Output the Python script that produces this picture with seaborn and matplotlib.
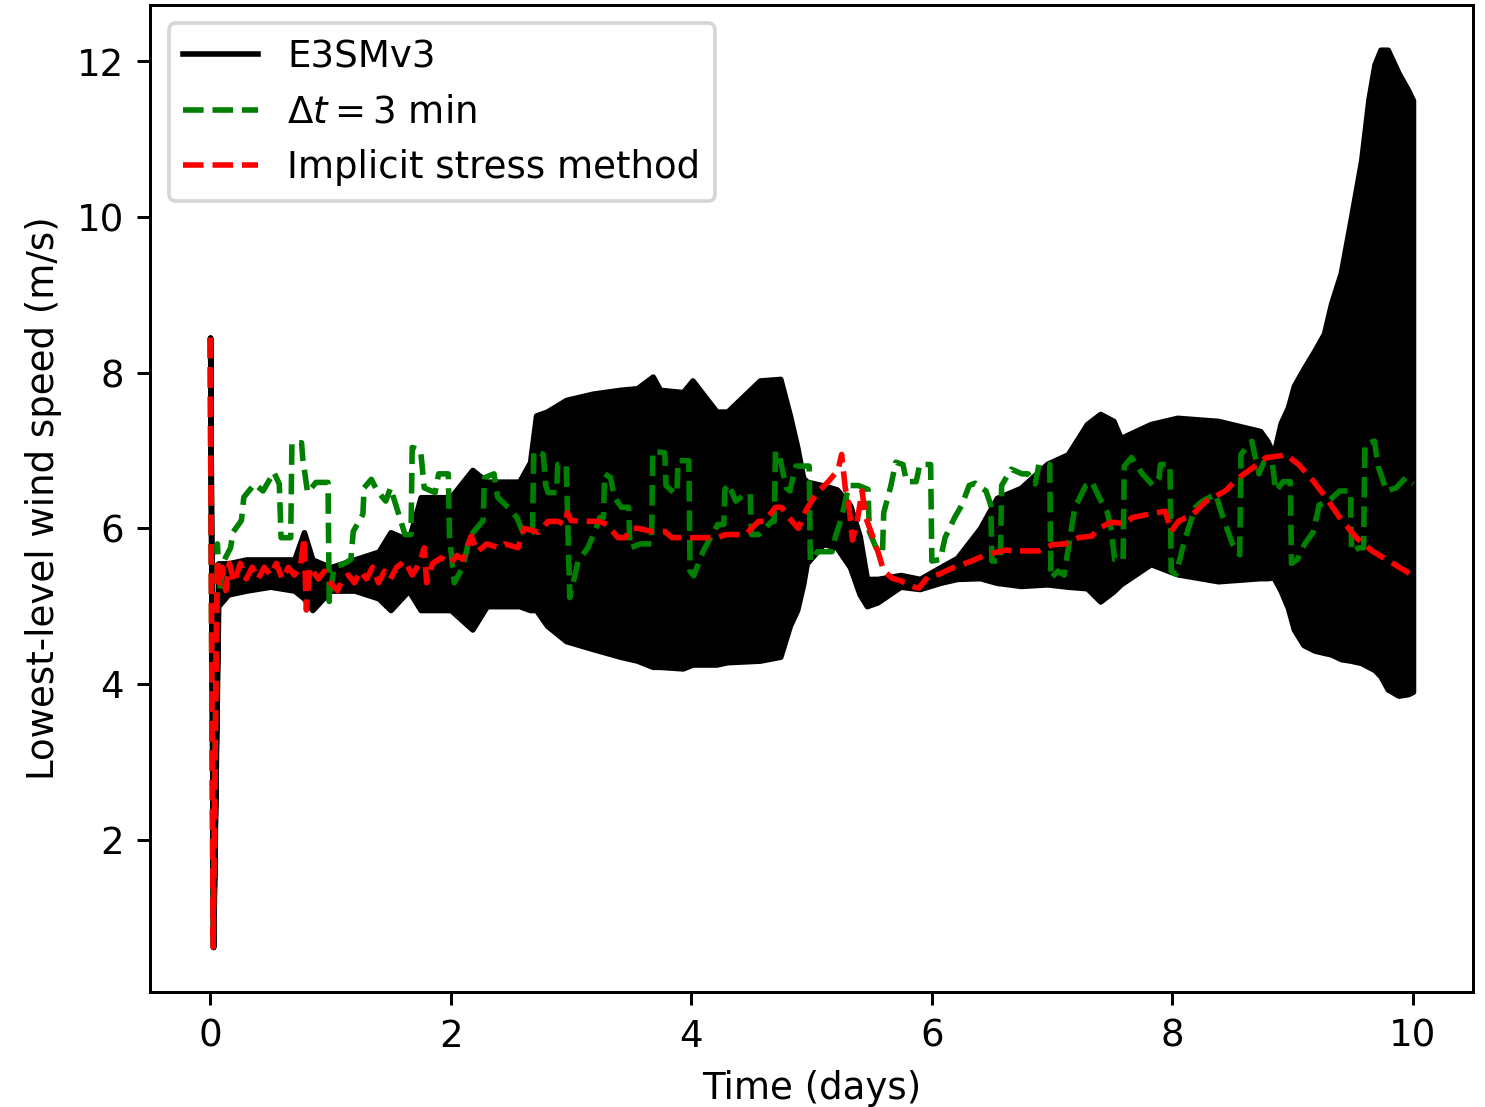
import numpy as np
import pandas as pd
import seaborn as sns
import matplotlib
matplotlib.use("Agg")
import matplotlib.pyplot as plt
from matplotlib.lines import Line2D

# E3SMv3: the run oscillates every step, so keep the upper/lower envelope
e3sm_t = [0.0, 0.025, 0.067, 0.15, 0.3, 0.5, 0.7, 0.78, 0.85, 1.0, 1.2, 1.4, 1.5, 1.65, 1.75,
          2.0, 2.18, 2.3, 2.57, 2.66, 2.71, 2.8, 2.96, 3.18, 3.41, 3.55, 3.68, 3.74, 3.93, 4.01,
          4.21, 4.3, 4.57, 4.74, 4.82, 4.88, 4.93, 4.96, 5.1, 5.21, 5.32, 5.4, 5.46, 5.55, 5.74,
          5.9, 6.07, 6.21, 6.4, 6.54, 6.74, 6.96, 7.13, 7.29, 7.4, 7.51, 7.57, 7.82, 8.04, 8.38,
          8.73, 8.79, 8.84, 8.9, 8.96, 9.01, 9.09, 9.18, 9.26, 9.32, 9.4, 9.48, 9.57, 9.63, 9.68,
          9.73, 9.79, 9.88, 9.96, 10.0]
e3sm_hi = [8.45, 0.62, 5.55, 5.55, 5.6, 5.6, 5.6, 5.95, 5.6, 5.5, 5.6, 5.7, 5.95, 5.85, 6.4,
           6.4, 6.75, 6.6, 6.6, 6.85, 7.45, 7.5, 7.65, 7.73, 7.78, 7.8, 7.95, 7.78, 7.75, 7.9,
           7.5, 7.5, 7.9, 7.92, 7.45, 7.05, 6.65, 6.6, 6.55, 6.5, 6.3, 5.9, 5.35, 5.35, 5.4,
           5.35, 5.5, 5.62, 6.0, 6.39, 6.52, 6.83, 6.95, 7.34, 7.47, 7.38, 7.16, 7.34, 7.42, 7.38,
           7.25, 7.12, 6.95, 7.35, 7.55, 7.83, 8.05, 8.28, 8.5, 8.89, 9.28, 9.95, 10.73, 11.51, 11.96,
           12.15, 12.15, 11.85, 11.63, 11.5]
e3sm_lo = [8.45, 0.62, 5.0, 5.15, 5.2, 5.25, 5.2, 5.1, 4.95, 5.2, 5.2, 5.1, 4.95, 5.2, 4.95,
           4.95, 4.7, 5.0, 5.0, 4.95, 4.95, 4.75, 4.55, 4.45, 4.35, 4.3, 4.22, 4.22, 4.2, 4.25,
           4.25, 4.28, 4.3, 4.35, 4.75, 4.95, 5.28, 5.55, 5.8, 5.75, 5.5, 5.15, 5.0, 5.05, 5.25,
           5.22, 5.3, 5.35, 5.36, 5.3, 5.26, 5.28, 5.25, 5.23, 5.06, 5.19, 5.28, 5.54, 5.41, 5.32,
           5.36, 5.36, 5.37, 5.2, 4.98, 4.7, 4.5, 4.43, 4.4, 4.38, 4.32, 4.3, 4.27, 4.22, 4.18,
           4.1, 3.93, 3.85, 3.87, 3.9]

# dt = 3 min run
dt3_t = [0.0, 0.025, 0.06, 0.08, 0.12, 0.17, 0.19, 0.26, 0.28, 0.37, 0.44, 0.53, 0.575, 0.59,
         0.67, 0.68, 0.76, 0.77, 0.81, 0.88, 0.98, 0.99, 1.03, 1.12, 1.17, 1.19, 1.27, 1.28,
         1.34, 1.39, 1.46, 1.5, 1.56, 1.62, 1.67, 1.68, 1.75, 1.78, 1.87, 1.9, 1.98, 1.99, 2.03,
         2.1, 2.16, 2.27, 2.28, 2.36, 2.39, 2.47, 2.55, 2.6, 2.68, 2.69, 2.77, 2.79, 2.81, 2.88,
         2.89, 2.96, 2.99, 3.06, 3.14, 3.2, 3.24, 3.27, 3.28, 3.33, 3.36, 3.42, 3.48, 3.49, 3.58,
         3.67, 3.68, 3.78, 3.79, 3.86, 3.88, 3.89, 3.98, 3.99, 4.02, 4.1, 4.22, 4.27, 4.28, 4.31,
         4.37, 4.45, 4.49, 4.5, 4.56, 4.67, 4.69, 4.7, 4.73, 4.79, 4.82, 4.87, 4.98, 4.99, 5.05,
         5.17, 5.2, 5.25, 5.31, 5.39, 5.47, 5.48, 5.55, 5.59, 5.6, 5.66, 5.7, 5.76, 5.79, 5.87,
         5.9, 5.99, 6.0, 6.07, 6.11, 6.19, 6.25, 6.31, 6.36, 6.45, 6.49, 6.5, 6.57, 6.58, 6.66,
         6.75, 6.8, 6.86, 6.89, 6.98, 6.99, 7.05, 7.1, 7.15, 7.19, 7.28, 7.33, 7.39, 7.46, 7.49,
         7.52, 7.59, 7.6, 7.66, 7.75, 7.84, 7.89, 7.9, 7.98, 7.99, 8.03, 8.1, 8.19, 8.25, 8.36,
         8.42, 8.5, 8.56, 8.57, 8.66, 8.72, 8.76, 8.83, 8.86, 8.92, 8.98, 8.99, 9.04, 9.1, 9.17,
         9.22, 9.3, 9.39, 9.48, 9.49, 9.55, 9.59, 9.6, 9.68, 9.71, 9.78, 9.86, 9.94, 10.0]
dt3_v = [8.45, 0.62, 5.8, 5.2, 5.6, 5.75, 5.95, 6.1, 6.4, 6.57, 6.48, 6.72, 6.57, 5.88,
         5.88, 7.1, 7.1, 6.9, 6.46, 6.59, 6.59, 5.06, 5.5, 5.55, 5.6, 5.96, 6.18, 6.52,
         6.63, 6.48, 6.35, 6.52, 6.22, 5.92, 5.92, 7.04, 7.0, 6.52, 6.46, 6.7, 6.7, 5.9, 5.3,
         5.5, 5.9, 6.1, 6.65, 6.7, 6.4, 6.28, 6.14, 5.95, 5.95, 6.99, 6.95, 6.55, 6.46, 6.46,
         6.82, 6.82, 5.11, 5.58, 5.75, 5.96, 6.14, 6.14, 6.7, 6.65, 6.4, 6.27, 6.27, 5.75, 5.8,
         5.8, 6.99, 6.97, 6.55, 6.45, 6.45, 6.87, 6.87, 5.45, 5.39, 5.71, 6.05, 6.05, 6.5, 6.57,
         6.35, 6.44, 6.44, 5.92, 5.92, 6.09, 6.09, 6.99, 6.95, 6.52, 6.48, 6.8, 6.8, 5.58, 5.7,
         5.7, 5.9, 6.14, 6.55, 6.55, 6.5, 5.96, 5.7, 5.7, 6.2, 6.55, 6.85, 6.82, 6.6, 6.6,
         6.82, 6.82, 5.58, 5.6, 5.88, 6.14, 6.3, 6.55, 6.58, 6.48, 6.3, 5.58, 5.58, 6.55, 6.76,
         6.7, 6.7, 6.57, 6.82, 6.82, 5.36, 5.45, 5.4, 5.9, 6.27, 6.55, 6.6, 6.4, 6.2, 6.0,
         5.6, 5.6, 6.8, 6.91, 6.7, 6.55, 6.65, 6.82, 6.82, 5.45, 5.41, 5.84, 6.27, 6.35, 6.44,
         6.14, 5.8, 5.66, 6.95, 7.12, 6.7, 6.85, 6.85, 6.48, 6.6, 6.6, 5.55, 5.6, 5.8, 5.95,
         6.3, 6.35, 6.48, 6.48, 5.7, 5.75, 5.75, 7.08, 7.12, 6.8, 6.48, 6.52, 6.65, 6.57]

# implicit stress method run
imp_t = [0.0, 0.025, 0.06, 0.08, 0.1, 0.13, 0.16, 0.2, 0.25, 0.3, 0.35, 0.4, 0.45, 0.5, 0.55,
         0.6, 0.65, 0.7, 0.75, 0.78, 0.8, 0.83, 0.9, 0.95, 1.0, 1.06, 1.1, 1.15, 1.2, 1.25, 1.3,
         1.35, 1.4, 1.45, 1.5, 1.55, 1.62, 1.68, 1.74, 1.78, 1.8, 1.85, 1.92, 2.0, 2.05, 2.1,
         2.17, 2.22, 2.3, 2.4, 2.45, 2.56, 2.61, 2.73, 2.81, 2.89, 2.95, 2.97, 3.0, 3.11, 3.23,
         3.3, 3.39, 3.45, 3.5, 3.56, 3.67, 3.78, 3.84, 4.0, 4.11, 4.22, 4.28, 4.45, 4.56, 4.61,
         4.7, 4.75, 4.81, 4.89, 4.95, 5.0, 5.06, 5.14, 5.22, 5.25, 5.28, 5.31, 5.34, 5.38, 5.42,
         5.45, 5.52, 5.56, 5.6, 5.67, 5.75, 5.82, 5.89, 5.97, 6.06, 6.17, 6.33, 6.45, 6.61, 6.72,
         6.89, 7.0, 7.11, 7.22, 7.33, 7.39, 7.49, 7.6, 7.67, 7.8, 7.94, 7.99, 8.05, 8.17, 8.28,
         8.44, 8.55, 8.67, 8.78, 8.89, 8.94, 9.05, 9.17, 9.28, 9.39, 9.53, 9.66, 9.8, 9.94, 10.0]
imp_v = [8.45, 0.62, 5.6, 5.25, 5.5, 5.2, 5.55, 5.3, 5.55, 5.35, 5.5, 5.35, 5.5, 5.4, 5.55,
         5.35, 5.5, 5.4, 5.5, 5.88, 4.95, 5.5, 5.35, 5.45, 5.3, 5.2, 5.35, 5.4, 5.3, 5.45, 5.35,
         5.5, 5.3, 5.45, 5.35, 5.5, 5.58, 5.4, 5.55, 5.75, 5.3, 5.55, 5.62, 5.55, 5.65, 5.6,
         5.9, 5.7, 5.8, 5.75, 5.8, 5.75, 6.0, 5.95, 6.09, 6.09, 6.05, 6.2, 6.1, 6.09, 6.09,
         6.05, 5.88, 5.88, 6.0, 6.0, 5.96, 5.96, 5.88, 5.88, 5.88, 5.88, 5.92, 5.92, 6.09, 6.09,
         6.27, 6.27, 6.14, 6.0, 6.22, 6.35, 6.48, 6.6, 6.75, 6.95, 6.52, 6.3, 5.85, 6.1, 6.48,
         6.14, 5.85, 5.66, 5.45, 5.36, 5.32, 5.26, 5.23, 5.38, 5.41, 5.49, 5.58, 5.66, 5.72, 5.71,
         5.71, 5.79, 5.8, 5.88, 5.9, 6.0, 6.08, 6.06, 6.14, 6.18, 6.22, 5.96, 6.09, 6.18, 6.35,
         6.48, 6.65, 6.78, 6.91, 6.93, 6.95, 6.82, 6.61, 6.39, 6.14, 5.88, 5.71, 5.58, 5.45, 5.39]

dt3 = pd.DataFrame({"time": dt3_t, "speed": dt3_v})
imp = pd.DataFrame({"time": imp_t, "speed": imp_v})

fig = plt.figure(figsize=(1485 / 267, 1107 / 267), dpi=267)
ax = fig.add_axes([0.101, 0.104, 0.891, 0.8916])

# solid black band for the oscillating E3SMv3 run
ax.fill_between(e3sm_t, e3sm_lo, e3sm_hi, color="black", linewidth=1.5)

sns.lineplot(data=dt3, x="time", y="speed", ax=ax, color="green", linestyle="--",
             linewidth=1.5, estimator=None, sort=False)
sns.lineplot(data=imp, x="time", y="speed", ax=ax, color="red", linestyle="--",
             linewidth=1.5, estimator=None, sort=False)

ax.set_xlabel("Time (days)")
ax.set_ylabel("Lowest-level wind speed (m/s)")

handles = [
    Line2D([0], [0], color="black", linewidth=1.5),
    Line2D([0], [0], color="green", linestyle="--", linewidth=1.5),
    Line2D([0], [0], color="red", linestyle="--", linewidth=1.5),
]
ax.legend(handles, ["E3SMv3", r"$\Delta t = 3$ min", "Implicit stress method"], loc="upper left")

fig.savefig("out.png", dpi=267)
